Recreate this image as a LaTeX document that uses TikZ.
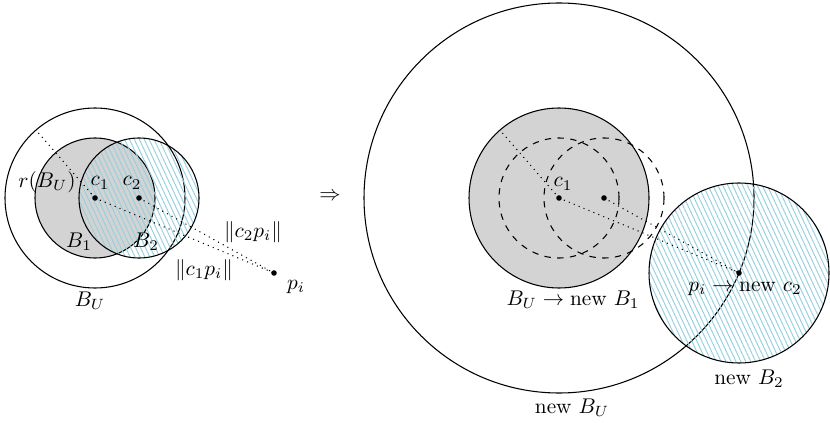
\documentclass[tikz,border=0pt]{standalone}
\usetikzlibrary{patterns.meta,calc}
\definecolor{hatchblue}{RGB}{150,208,222}
\definecolor{ballgray}{RGB}{211,211,211}
\begin{document}
\begin{tikzpicture}[x=0.47pt,y=0.47pt,
  ball/.style={draw=black,line width=0.5pt},
  grayball/.style={ball,fill=ballgray},
  hatchball/.style={ball,pattern={Lines[angle=-65,distance=2.1pt,line width=0.45pt]},pattern color=hatchblue},
  dashball/.style={draw=black,line width=0.5pt,dashed},
  dotline/.style={dotted,line width=0.5pt},
  pt/.style={circle,fill=black,inner sep=0pt,minimum size=2.6pt},
  lbl/.style={inner sep=0pt}]
\useasboundingbox (0,0) rectangle (830,422);
% ---------- left ----------
\coordinate (c1) at (95,224);
\coordinate (c2) at (139,224);
\coordinate (pi) at (274,149);
\coordinate (rend) at ($(c1)+(131:90)$);
\draw[ball] (c1) circle[radius=90];
\draw[grayball] (c1) circle[radius=60];
\draw[hatchball] (c2) circle[radius=60];
\draw[dotline] (c1) -- (rend);
\draw[dotline] (c1) -- (pi);
\draw[dotline] (c2) -- (pi);
\node[pt] (dc1) at (c1) {};
\node[pt] (dc2) at (c2) {};
\node[pt] (dpi) at (pi) {};
\node[lbl] (lr) at (47,240) {$r(B_U)$};
\node[lbl] (lc1) at (100,239) {$c_1$};
\node[lbl] (lc2) at (132,239) {$c_2$};
\node[lbl] (lb1) at (79,180) {$B_1$};
\node[lbl] (lb2) at (146,180) {$B_2$};
\node[lbl] (ld2) at (253,190) {$\|c_2p_i\|$};
\node[lbl] (ld1) at (204,152) {$\|c_1p_i\|$};
\node[lbl] (lpi) at (296,135) {$p_i$};
\node[lbl] (lbu) at (90,121) {$B_U$};
% ---------- arrow ----------
\node[lbl] (impl) at (330,225.5) {$\Rightarrow$};
% ---------- right ----------
\coordinate (C1) at (559,224);
\coordinate (C2) at (604,224);
\coordinate (P) at (739,149);
\coordinate (Rend) at ($(C1)+(131:90)$);
\draw[ball] (C1) circle[radius=195];
\draw[grayball] (C1) circle[radius=90];
\draw[dashball] (C1) circle[radius=60];
\draw[dashball] (C2) circle[radius=60];
\draw[hatchball] (P) circle[radius=90];
\draw[dotline] (C1) -- (Rend);
\draw[dotline] (C1) -- (P);
\draw[dotline] (C2) -- (P);
\node[pt] (dC1) at (C1) {};
\node[pt] (dC2) at (C2) {};
\node[pt] (dP) at (P) {};
\node[lbl] (Lc1) at (563,238) {$c_1$};
\node[lbl] (Lbu1) at (573,122) {$B_U \rightarrow \mbox{new } B_1$};
\node[lbl] (Lpc2) at (745,133) {$p_i \rightarrow \mbox{new } c_2$};
\node[lbl] (Lb2) at (749,43) {new $B_2$};
\node[lbl] (Lbu) at (572,14) {new $B_U$};
\end{tikzpicture}
\end{document}
